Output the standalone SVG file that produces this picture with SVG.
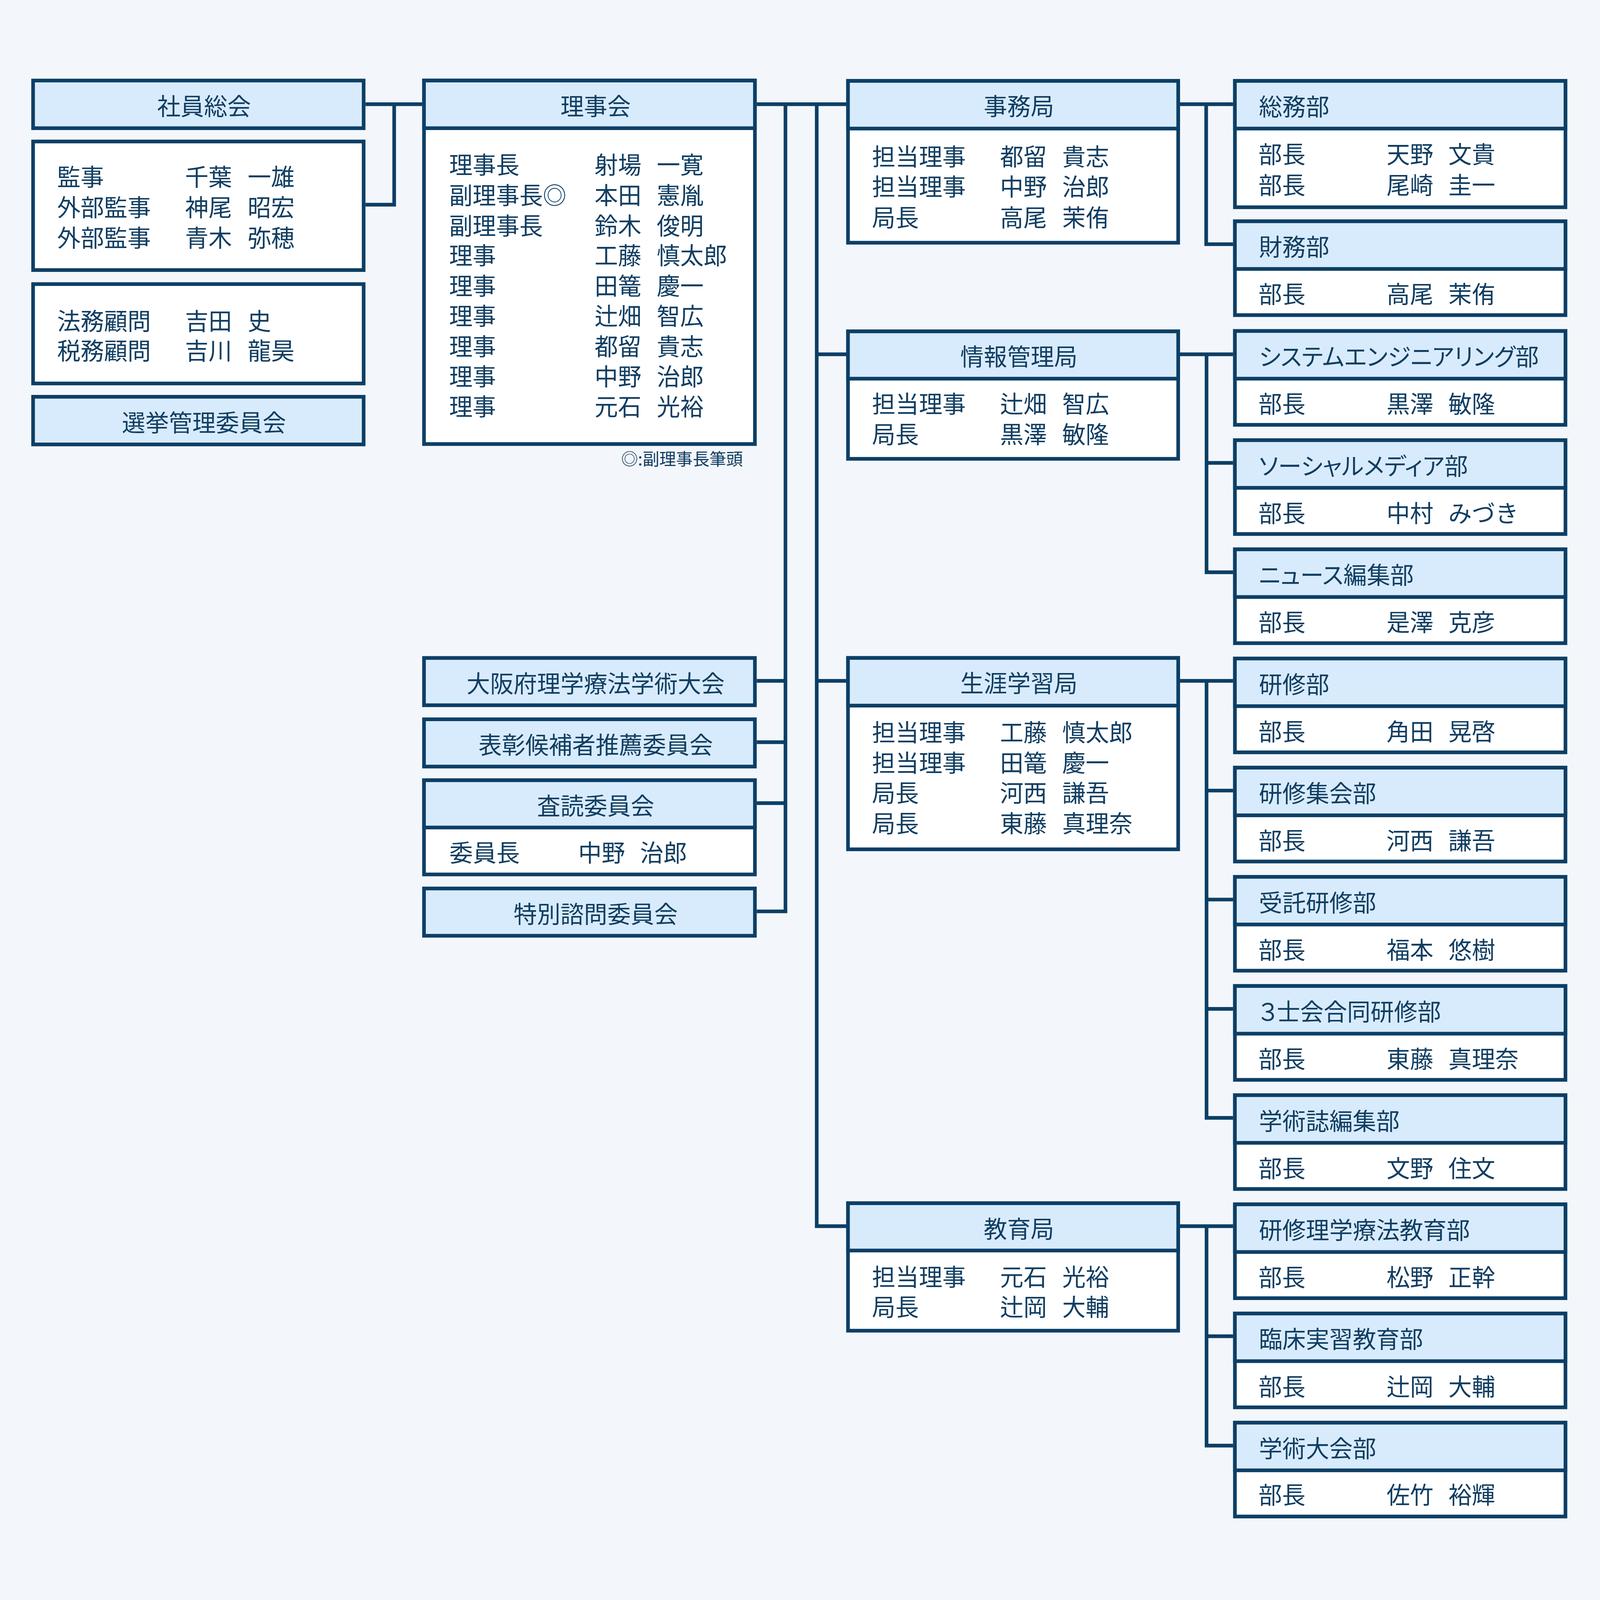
<svg xmlns="http://www.w3.org/2000/svg" width="4400" height="4331" viewBox="0 0 4400 4331" preserveAspectRatio="none">
<style>
svg{width:100vw;height:100vh;display:block}
.bx{fill:#ffffff;stroke:#0d3f66;stroke-width:10}
.hd{fill:#d8ebfc;stroke:#0d3f66;stroke-width:10}
.ln{fill:none;stroke:#0d3f66;stroke-width:10;stroke-linejoin:miter}
text{font-family:"Noto Sans CJK JP","Noto Sans",sans-serif;font-size:64.5px;fill:#113e62}
.c{text-anchor:middle}
.p{font-feature-settings:"palt"}
.n{font-size:46px;text-anchor:end}
</style>
<rect x="0" y="0" width="4400" height="4331" fill="#f3f7fb"/>

<g id="connectors">
<path class="ln" d="M1005 282 H1161 M1084 282 V554 H1005"/>
<path class="ln" d="M2081 282 H2327"/>
<path class="ln" d="M2160 282 V2467 H2081 M2160 1843 H2081 M2160 2009 H2081 M2160 2174 H2081"/>
<path class="ln" d="M2246 282 V3319 H2327 M2246 959 H2327 M2246 1843 H2327"/>
<path class="ln" d="M3245 282 H3391 M3317 282 V661 H3391"/>
<path class="ln" d="M3245 959 H3391 M3318 959 V1549 H3391 M3318 1253 H3391"/>
<path class="ln" d="M3245 1843 H3391 M3318 1843 V3026 H3391 M3318 2140 H3391 M3318 2435 H3391 M3318 2731 H3391"/>
<path class="ln" d="M3245 3319 H3391 M3318 3319 V3913 H3391 M3318 3617 H3391"/>
</g>

<g id="shain-sokai">
<rect class="hd" x="91" y="218" width="909" height="129"/>
<text class="c" x="561" y="312">社員総会</text>
</g>
<g id="kanji">
<rect class="bx" x="91" y="383" width="909" height="348"/>
<text><tspan x="157" y="503">監事</tspan><tspan x="157" y="586">外部監事</tspan><tspan x="157" y="668">外部監事</tspan></text>
<text><tspan x="509" y="503">千葉</tspan><tspan x="509" y="586">神尾</tspan><tspan x="509" y="668">青木</tspan></text>
<text><tspan x="681" y="503">一雄</tspan><tspan x="681" y="586">昭宏</tspan><tspan x="681" y="668">弥穂</tspan></text>
</g>
<g id="komon">
<rect class="bx" x="91" y="769" width="909" height="269"/>
<text><tspan x="157" y="893">法務顧問</tspan><tspan x="157" y="974">税務顧問</tspan></text>
<text><tspan x="509" y="893">吉田</tspan><tspan x="509" y="974">吉川</tspan></text>
<text><tspan x="681" y="893">史</tspan><tspan x="681" y="974">龍昊</tspan></text>
</g>
<g id="senkyo">
<rect class="hd" x="91" y="1074" width="909" height="129"/>
<text class="c" x="561" y="1168">選挙管理委員会</text>
</g>

<g id="rijikai">
<rect class="bx" x="1166" y="218" width="910" height="984"/>
<rect class="hd" x="1166" y="218" width="910" height="129"/>
<text class="c" x="1638" y="312">理事会</text>
<text><tspan x="1235" y="471">理事長</tspan><tspan x="1235" y="553">副理事長◎</tspan><tspan x="1235" y="635">副理事長</tspan><tspan x="1235" y="716">理事</tspan><tspan x="1235" y="798">理事</tspan><tspan x="1235" y="880">理事</tspan><tspan x="1235" y="962">理事</tspan><tspan x="1235" y="1044">理事</tspan><tspan x="1235" y="1125">理事</tspan></text>
<text><tspan x="1635" y="471">射場</tspan><tspan x="1635" y="553">本田</tspan><tspan x="1635" y="635">鈴木</tspan><tspan x="1635" y="716">工藤</tspan><tspan x="1635" y="798">田篭</tspan><tspan x="1635" y="880">辻畑</tspan><tspan x="1635" y="962">都留</tspan><tspan x="1635" y="1044">中野</tspan><tspan x="1635" y="1125">元石</tspan></text>
<text><tspan x="1806" y="471">一寛</tspan><tspan x="1806" y="553">憲胤</tspan><tspan x="1806" y="635">俊明</tspan><tspan x="1806" y="716">慎太郎</tspan><tspan x="1806" y="798">慶一</tspan><tspan x="1806" y="880">智広</tspan><tspan x="1806" y="962">貴志</tspan><tspan x="1806" y="1044">治郎</tspan><tspan x="1806" y="1125">光裕</tspan></text>
<text class="n" x="2043" y="1259">◎:副理事長筆頭</text>
</g>

<g id="taikai">
<rect class="hd" x="1166" y="1781" width="910" height="128"/>
<text class="c" x="1638" y="1875">大阪府理学療法学術大会</text>
</g>
<g id="hyosho">
<rect class="hd" x="1166" y="1947" width="910" height="128"/>
<text class="c" x="1638" y="2041">表彰候補者推薦委員会</text>
</g>
<g id="sadoku">
<rect class="bx" x="1166" y="2112" width="910" height="255"/>
<rect class="hd" x="1166" y="2112" width="910" height="128"/>
<text class="c" x="1638" y="2206">査読委員会</text>
<text x="1236" y="2333">委員長</text><text x="1590" y="2333">中野</text><text x="1760" y="2333">治郎</text>
</g>
<g id="tokubetsu">
<rect class="hd" x="1166" y="2405" width="910" height="128"/>
<text class="c" x="1638" y="2499">特別諮問委員会</text>
</g>

<g id="jimukyoku">
<rect class="bx" x="2332" y="219" width="908" height="438"/>
<rect class="hd" x="2332" y="219" width="908" height="129"/>
<text class="c" x="2802" y="312">事務局</text>
<text><tspan x="2398" y="448">担当理事</tspan><tspan x="2398" y="530">担当理事</tspan><tspan x="2398" y="613">局長</tspan></text>
<text><tspan x="2750" y="448">都留</tspan><tspan x="2750" y="530">中野</tspan><tspan x="2750" y="613">高尾</tspan></text>
<text><tspan x="2921" y="448">貴志</tspan><tspan x="2921" y="530">治郎</tspan><tspan x="2921" y="613">茉侑</tspan></text>
</g>
<g id="joho">
<rect class="bx" x="2332" y="897" width="908" height="345"/>
<rect class="hd" x="2332" y="897" width="908" height="128"/>
<text class="c" x="2802" y="990">情報管理局</text>
<text><tspan x="2398" y="1118">担当理事</tspan><tspan x="2398" y="1200">局長</tspan></text>
<text><tspan x="2750" y="1118">辻畑</tspan><tspan x="2750" y="1200">黒澤</tspan></text>
<text><tspan x="2921" y="1118">智広</tspan><tspan x="2921" y="1200">敏隆</tspan></text>
</g>
<g id="shogai">
<rect class="bx" x="2332" y="1781" width="908" height="518"/>
<rect class="hd" x="2332" y="1781" width="908" height="129"/>
<text class="c" x="2802" y="1874">生涯学習局</text>
<text><tspan x="2398" y="2007">担当理事</tspan><tspan x="2398" y="2089">担当理事</tspan><tspan x="2398" y="2171">局長</tspan><tspan x="2398" y="2253">局長</tspan></text>
<text><tspan x="2750" y="2007">工藤</tspan><tspan x="2750" y="2089">田篭</tspan><tspan x="2750" y="2171">河西</tspan><tspan x="2750" y="2253">東藤</tspan></text>
<text><tspan x="2921" y="2007">慎太郎</tspan><tspan x="2921" y="2089">慶一</tspan><tspan x="2921" y="2171">謙吾</tspan><tspan x="2921" y="2253">真理奈</tspan></text>
</g>
<g id="kyoiku">
<rect class="bx" x="2332" y="3257" width="908" height="345"/>
<rect class="hd" x="2332" y="3257" width="908" height="128"/>
<text class="c" x="2802" y="3351">教育局</text>
<text><tspan x="2398" y="3481">担当理事</tspan><tspan x="2398" y="3562">局長</tspan></text>
<text><tspan x="2750" y="3481">元石</tspan><tspan x="2750" y="3562">辻岡</tspan></text>
<text><tspan x="2921" y="3481">光裕</tspan><tspan x="2921" y="3562">大輔</tspan></text>
</g>

<g id="somu">
<rect class="bx" x="3396" y="219" width="909" height="342"/>
<rect class="hd" x="3396" y="219" width="909" height="129"/>
<text x="3462" y="313">総務部</text>
<text><tspan x="3461" y="442">部長</tspan><tspan x="3461" y="525">部長</tspan></text>
<text><tspan x="3813" y="442">天野</tspan><tspan x="3813" y="525">尾崎</tspan></text>
<text><tspan x="3983" y="442">文貴</tspan><tspan x="3983" y="525">圭一</tspan></text>
</g>
<g id="zaimu">
<rect class="bx" x="3396" y="599" width="909" height="254"/>
<rect class="hd" x="3396" y="599" width="909" height="129"/>
<text x="3462" y="693">財務部</text>
<text x="3461" y="821">部長</text><text x="3813" y="821">高尾</text><text x="3983" y="821">茉侑</text>
</g>
<g id="system">
<rect class="bx" x="3396" y="896" width="909" height="254"/>
<rect class="hd" x="3396" y="896" width="909" height="129"/>
<text class="p" x="3462" y="990">システムエンジニアリング部</text>
<text x="3461" y="1118">部長</text><text x="3813" y="1118">黒澤</text><text x="3983" y="1118">敏隆</text>
</g>
<g id="social">
<rect class="bx" x="3396" y="1191.5" width="909" height="254"/>
<rect class="hd" x="3396" y="1191.5" width="909" height="129"/>
<text class="p" x="3462" y="1285.5">ソーシャルメディア部</text>
<text x="3461" y="1413.5">部長</text><text x="3813" y="1413.5">中村</text><text x="3983" y="1413.5">みづき</text>
</g>
<g id="news">
<rect class="bx" x="3396" y="1487" width="909" height="254"/>
<rect class="hd" x="3396" y="1487" width="909" height="129"/>
<text class="p" x="3462" y="1581">ニュース編集部</text>
<text x="3461" y="1709">部長</text><text x="3813" y="1709">是澤</text><text x="3983" y="1709">克彦</text>
</g>
<g id="kenshu">
<rect class="bx" x="3396" y="1782.5" width="909" height="254"/>
<rect class="hd" x="3396" y="1782.5" width="909" height="129"/>
<text x="3462" y="1876.5">研修部</text>
<text x="3461" y="2004.5">部長</text><text x="3813" y="2004.5">角田</text><text x="3983" y="2004.5">晃啓</text>
</g>
<g id="kenshu-shukai">
<rect class="bx" x="3396" y="2078" width="909" height="254"/>
<rect class="hd" x="3396" y="2078" width="909" height="129"/>
<text x="3462" y="2172">研修集会部</text>
<text x="3461" y="2300">部長</text><text x="3813" y="2300">河西</text><text x="3983" y="2300">謙吾</text>
</g>
<g id="jutaku">
<rect class="bx" x="3396" y="2373.5" width="909" height="254"/>
<rect class="hd" x="3396" y="2373.5" width="909" height="129"/>
<text x="3462" y="2467.5">受託研修部</text>
<text x="3461" y="2595.5">部長</text><text x="3813" y="2595.5">福本</text><text x="3983" y="2595.5">悠樹</text>
</g>
<g id="sanshikai">
<rect class="bx" x="3396" y="2669" width="909" height="254"/>
<rect class="hd" x="3396" y="2669" width="909" height="129"/>
<text class="p" x="3462" y="2763">３士会合同研修部</text>
<text x="3461" y="2891">部長</text><text x="3813" y="2891">東藤</text><text x="3983" y="2891">真理奈</text>
</g>
<g id="gakujutsushi">
<rect class="bx" x="3396" y="2964.5" width="909" height="254"/>
<rect class="hd" x="3396" y="2964.5" width="909" height="129"/>
<text x="3462" y="3058.5">学術誌編集部</text>
<text x="3461" y="3186.5">部長</text><text x="3813" y="3186.5">文野</text><text x="3983" y="3186.5">住文</text>
</g>
<g id="kenshu-rigaku">
<rect class="bx" x="3396" y="3260" width="909" height="254"/>
<rect class="hd" x="3396" y="3260" width="909" height="129"/>
<text x="3462" y="3354">研修理学療法教育部</text>
<text x="3461" y="3482">部長</text><text x="3813" y="3482">松野</text><text x="3983" y="3482">正幹</text>
</g>
<g id="rinsho">
<rect class="bx" x="3396" y="3555.5" width="909" height="254"/>
<rect class="hd" x="3396" y="3555.5" width="909" height="129"/>
<text x="3462" y="3649.5">臨床実習教育部</text>
<text x="3461" y="3777.5">部長</text><text x="3813" y="3777.5">辻岡</text><text x="3983" y="3777.5">大輔</text>
</g>
<g id="gakujutsu-taikai">
<rect class="bx" x="3396" y="3851" width="909" height="254"/>
<rect class="hd" x="3396" y="3851" width="909" height="129"/>
<text x="3462" y="3945">学術大会部</text>
<text x="3461" y="4071">部長</text><text x="3813" y="4071">佐竹</text><text x="3983" y="4071">裕輝</text>
</g>
</svg>
